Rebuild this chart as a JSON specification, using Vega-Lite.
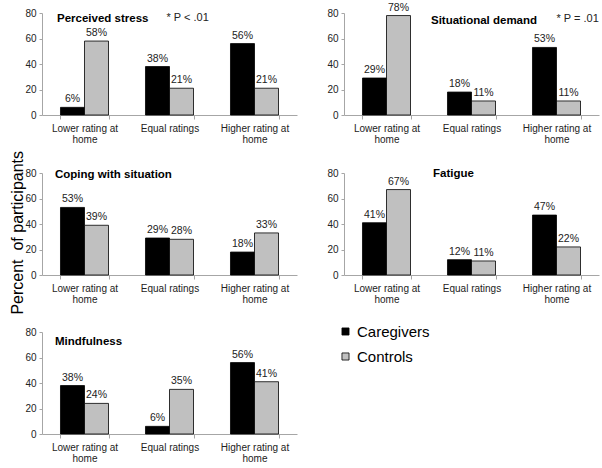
{
  "$schema": "https://vega.github.io/schema/vega-lite/v6.json",
  "background": "white",
  "padding": {"top": 2, "left": 9, "right": 0, "bottom": 0},
  "title": {"text": "Percent\u00a0 of participants", "orient": "left", "anchor": "middle", "frame": "bounds", "fontSize": 16, "fontWeight": "normal", "color": "black", "offset": -17, "baseline": "bottom"},
  "datasets": {
    "bars": [
      {"panel": "Perceived stress", "rating": "Lower rating at home", "group": "Caregivers", "value": 6},
      {"panel": "Perceived stress", "rating": "Lower rating at home", "group": "Controls", "value": 58},
      {"panel": "Perceived stress", "rating": "Equal ratings", "group": "Caregivers", "value": 38},
      {"panel": "Perceived stress", "rating": "Equal ratings", "group": "Controls", "value": 21},
      {"panel": "Perceived stress", "rating": "Higher rating at home", "group": "Caregivers", "value": 56},
      {"panel": "Perceived stress", "rating": "Higher rating at home", "group": "Controls", "value": 21},
      {"panel": "Situational demand", "rating": "Lower rating at home", "group": "Caregivers", "value": 29},
      {"panel": "Situational demand", "rating": "Lower rating at home", "group": "Controls", "value": 78},
      {"panel": "Situational demand", "rating": "Equal ratings", "group": "Caregivers", "value": 18},
      {"panel": "Situational demand", "rating": "Equal ratings", "group": "Controls", "value": 11},
      {"panel": "Situational demand", "rating": "Higher rating at home", "group": "Caregivers", "value": 53},
      {"panel": "Situational demand", "rating": "Higher rating at home", "group": "Controls", "value": 11},
      {"panel": "Coping with situation", "rating": "Lower rating at home", "group": "Caregivers", "value": 53},
      {"panel": "Coping with situation", "rating": "Lower rating at home", "group": "Controls", "value": 39},
      {"panel": "Coping with situation", "rating": "Equal ratings", "group": "Caregivers", "value": 29},
      {"panel": "Coping with situation", "rating": "Equal ratings", "group": "Controls", "value": 28},
      {"panel": "Coping with situation", "rating": "Higher rating at home", "group": "Caregivers", "value": 18},
      {"panel": "Coping with situation", "rating": "Higher rating at home", "group": "Controls", "value": 33},
      {"panel": "Fatigue", "rating": "Lower rating at home", "group": "Caregivers", "value": 41},
      {"panel": "Fatigue", "rating": "Lower rating at home", "group": "Controls", "value": 67},
      {"panel": "Fatigue", "rating": "Equal ratings", "group": "Caregivers", "value": 12},
      {"panel": "Fatigue", "rating": "Equal ratings", "group": "Controls", "value": 11},
      {"panel": "Fatigue", "rating": "Higher rating at home", "group": "Caregivers", "value": 47},
      {"panel": "Fatigue", "rating": "Higher rating at home", "group": "Controls", "value": 22},
      {"panel": "Mindfulness", "rating": "Lower rating at home", "group": "Caregivers", "value": 38},
      {"panel": "Mindfulness", "rating": "Lower rating at home", "group": "Controls", "value": 24},
      {"panel": "Mindfulness", "rating": "Equal ratings", "group": "Caregivers", "value": 6},
      {"panel": "Mindfulness", "rating": "Equal ratings", "group": "Controls", "value": 35},
      {"panel": "Mindfulness", "rating": "Higher rating at home", "group": "Caregivers", "value": 56},
      {"panel": "Mindfulness", "rating": "Higher rating at home", "group": "Controls", "value": 41}
    ],
    "titles": [
      {"panel": "Perceived stress", "title": "Perceived stress"},
      {"panel": "Situational demand", "title": "Situational demand"},
      {"panel": "Coping with situation", "title": "Coping with situation"},
      {"panel": "Fatigue", "title": "Fatigue"},
      {"panel": "Mindfulness", "title": "Mindfulness"}
    ],
    "notes": [
      {"panel": "Perceived stress", "note": "* P < .01"},
      {"panel": "Situational demand", "note": "* P = .01"}
    ]
  },
  "config": {
    "font": "Liberation Sans",
    "view": {"stroke": null},
    "axis": {"domainColor": "#a6a6a6", "tickColor": "#a6a6a6", "labelColor": "#222222", "labelFontSize": 10, "grid": false, "tickSize": 4, "minExtent": 0},
    "axisX": {"labelAngle": 0, "tickBand": "extent", "labelPadding": 4, "labelLineHeight": 11, "labelBaseline": "top"},
    "axisY": {"labelPadding": 3, "tickSize": 3, "labelOverlap": false, "tickCount": 5},
    "legend": {"orient": "none", "legendX": 296, "legendY": 311, "title": null, "symbolType": "square", "symbolSize": 50, "symbolStrokeColor": "black", "symbolStrokeWidth": 0.8, "labelFontSize": 15, "labelColor": "black", "labelOffset": 4, "rowPadding": 9}
  },
  "spacing": 23,
  "vconcat": [
    {
      "spacing": 29,
      "hconcat": [
        {
          "width": 255, "height": 102,
          "layer": [
            {
              "data": {"name": "bars"},
              "transform": [{"filter": "datum.panel === 'Perceived stress'"}],
              "mark": {"type": "bar", "stroke": "black", "strokeWidth": 0.8},
              "encoding": {
                "x": {"field": "rating", "type": "nominal", "sort": ["Lower rating at home", "Equal ratings", "Higher rating at home"], "scale": {"paddingInner": 0.435, "paddingOuter": 0.2175}, "axis": {"title": null, "labelExpr": "datum.label === 'Lower rating at home' ? ['Lower rating at', 'home'] : datum.label === 'Higher rating at home' ? ['Higher rating at', 'home'] : datum.label"}},
                "y": {"field": "value", "type": "quantitative", "scale": {"domain": [0, 80]}, "axis": {"title": null, "values": [0, 20, 40, 60, 80]}},
                "xOffset": {"field": "group", "type": "nominal", "sort": ["Caregivers", "Controls"]},
                "color": {"field": "group", "type": "nominal", "scale": {"domain": ["Caregivers", "Controls"], "range": ["#000000", "#c0c0c0"]}}
              }
            },
            {
              "data": {"name": "bars"},
              "transform": [{"filter": "datum.panel === 'Perceived stress'"}],
              "mark": {"type": "text", "dy": -5, "baseline": "alphabetic", "fontSize": 10.5, "color": "#222222", "text": {"expr": "datum.value + '%'"}},
              "encoding": {
                "x": {"field": "rating", "type": "nominal", "sort": ["Lower rating at home", "Equal ratings", "Higher rating at home"]},
                "y": {"field": "value", "type": "quantitative", "axis": {"title": null, "values": [0, 20, 40, 60, 80]}},
                "xOffset": {"field": "group", "type": "nominal", "sort": ["Caregivers", "Controls"]}
              }
            },
            {
              "data": {"name": "titles"},
              "transform": [{"filter": "datum.panel === 'Perceived stress'"}],
              "mark": {"type": "text", "align": "left", "baseline": "alphabetic", "fontSize": 11.5, "fontWeight": "bold", "color": "black", "dx": -27.5},
              "encoding": {"x": {"datum": "Lower rating at home"}, "y": {"datum": 72.6}, "text": {"field": "title"}}
            },
            {
              "data": {"name": "notes"},
              "transform": [{"filter": "datum.panel === 'Perceived stress'"}],
              "mark": {"type": "text", "align": "left", "baseline": "alphabetic", "fontSize": 11, "color": "#222222", "dx": -3},
              "encoding": {"x": {"datum": "Equal ratings"}, "y": {"datum": 73.4}, "text": {"field": "note"}}
            }
          ]
        },
        {
          "width": 255, "height": 102,
          "layer": [
            {
              "data": {"name": "bars"},
              "transform": [{"filter": "datum.panel === 'Situational demand'"}],
              "mark": {"type": "bar", "stroke": "black", "strokeWidth": 0.8},
              "encoding": {
                "x": {"field": "rating", "type": "nominal", "sort": ["Lower rating at home", "Equal ratings", "Higher rating at home"], "scale": {"paddingInner": 0.435, "paddingOuter": 0.2175}, "axis": {"title": null, "labelExpr": "datum.label === 'Lower rating at home' ? ['Lower rating at', 'home'] : datum.label === 'Higher rating at home' ? ['Higher rating at', 'home'] : datum.label"}},
                "y": {"field": "value", "type": "quantitative", "scale": {"domain": [0, 80]}, "axis": {"title": null, "values": [0, 20, 40, 60, 80]}},
                "xOffset": {"field": "group", "type": "nominal", "sort": ["Caregivers", "Controls"]},
                "color": {"field": "group", "type": "nominal", "scale": {"domain": ["Caregivers", "Controls"], "range": ["#000000", "#c0c0c0"]}}
              }
            },
            {
              "data": {"name": "bars"},
              "transform": [{"filter": "datum.panel === 'Situational demand'"}],
              "mark": {"type": "text", "dy": -5, "baseline": "alphabetic", "fontSize": 10.5, "color": "#222222", "text": {"expr": "datum.value + '%'"}},
              "encoding": {
                "x": {"field": "rating", "type": "nominal", "sort": ["Lower rating at home", "Equal ratings", "Higher rating at home"]},
                "y": {"field": "value", "type": "quantitative", "axis": {"title": null, "values": [0, 20, 40, 60, 80]}},
                "xOffset": {"field": "group", "type": "nominal", "sort": ["Caregivers", "Controls"]}
              }
            },
            {
              "data": {"name": "titles"},
              "transform": [{"filter": "datum.panel === 'Situational demand'"}],
              "mark": {"type": "text", "align": "left", "baseline": "alphabetic", "fontSize": 11.5, "fontWeight": "bold", "color": "black", "dx": -40.5},
              "encoding": {"x": {"datum": "Equal ratings"}, "y": {"datum": 71.4}, "text": {"field": "title"}}
            },
            {
              "data": {"name": "notes"},
              "transform": [{"filter": "datum.panel === 'Situational demand'"}],
              "mark": {"type": "text", "align": "left", "baseline": "alphabetic", "fontSize": 11, "color": "#222222", "dx": 0},
              "encoding": {"x": {"datum": "Higher rating at home"}, "y": {"datum": 72.6}, "text": {"field": "note"}}
            }
          ]
        }
      ]
    },
    {
      "spacing": 29,
      "hconcat": [
        {
          "width": 255, "height": 102,
          "layer": [
            {
              "data": {"name": "bars"},
              "transform": [{"filter": "datum.panel === 'Coping with situation'"}],
              "mark": {"type": "bar", "stroke": "black", "strokeWidth": 0.8},
              "encoding": {
                "x": {"field": "rating", "type": "nominal", "sort": ["Lower rating at home", "Equal ratings", "Higher rating at home"], "scale": {"paddingInner": 0.435, "paddingOuter": 0.2175}, "axis": {"title": null, "labelExpr": "datum.label === 'Lower rating at home' ? ['Lower rating at', 'home'] : datum.label === 'Higher rating at home' ? ['Higher rating at', 'home'] : datum.label"}},
                "y": {"field": "value", "type": "quantitative", "scale": {"domain": [0, 80]}, "axis": {"title": null, "values": [0, 20, 40, 60, 80]}},
                "xOffset": {"field": "group", "type": "nominal", "sort": ["Caregivers", "Controls"]},
                "color": {"field": "group", "type": "nominal", "scale": {"domain": ["Caregivers", "Controls"], "range": ["#000000", "#c0c0c0"]}}
              }
            },
            {
              "data": {"name": "bars"},
              "transform": [{"filter": "datum.panel === 'Coping with situation'"}],
              "mark": {"type": "text", "dy": -5, "baseline": "alphabetic", "fontSize": 10.5, "color": "#222222", "text": {"expr": "datum.value + '%'"}},
              "encoding": {
                "x": {"field": "rating", "type": "nominal", "sort": ["Lower rating at home", "Equal ratings", "Higher rating at home"]},
                "y": {"field": "value", "type": "quantitative", "axis": {"title": null, "values": [0, 20, 40, 60, 80]}},
                "xOffset": {"field": "group", "type": "nominal", "sort": ["Caregivers", "Controls"]}
              }
            },
            {
              "data": {"name": "titles"},
              "transform": [{"filter": "datum.panel === 'Coping with situation'"}],
              "mark": {"type": "text", "align": "left", "baseline": "alphabetic", "fontSize": 11.5, "fontWeight": "bold", "color": "black", "dx": -29.5},
              "encoding": {"x": {"datum": "Lower rating at home"}, "y": {"datum": 75.7}, "text": {"field": "title"}}
            }
          ]
        },
        {
          "width": 255, "height": 102,
          "layer": [
            {
              "data": {"name": "bars"},
              "transform": [{"filter": "datum.panel === 'Fatigue'"}],
              "mark": {"type": "bar", "stroke": "black", "strokeWidth": 0.8},
              "encoding": {
                "x": {"field": "rating", "type": "nominal", "sort": ["Lower rating at home", "Equal ratings", "Higher rating at home"], "scale": {"paddingInner": 0.435, "paddingOuter": 0.2175}, "axis": {"title": null, "labelExpr": "datum.label === 'Lower rating at home' ? ['Lower rating at', 'home'] : datum.label === 'Higher rating at home' ? ['Higher rating at', 'home'] : datum.label"}},
                "y": {"field": "value", "type": "quantitative", "scale": {"domain": [0, 80]}, "axis": {"title": null, "values": [0, 20, 40, 60, 80]}},
                "xOffset": {"field": "group", "type": "nominal", "sort": ["Caregivers", "Controls"]},
                "color": {"field": "group", "type": "nominal", "scale": {"domain": ["Caregivers", "Controls"], "range": ["#000000", "#c0c0c0"]}}
              }
            },
            {
              "data": {"name": "bars"},
              "transform": [{"filter": "datum.panel === 'Fatigue'"}],
              "mark": {"type": "text", "dy": -5, "baseline": "alphabetic", "fontSize": 10.5, "color": "#222222", "text": {"expr": "datum.value + '%'"}},
              "encoding": {
                "x": {"field": "rating", "type": "nominal", "sort": ["Lower rating at home", "Equal ratings", "Higher rating at home"]},
                "y": {"field": "value", "type": "quantitative", "axis": {"title": null, "values": [0, 20, 40, 60, 80]}},
                "xOffset": {"field": "group", "type": "nominal", "sort": ["Caregivers", "Controls"]}
              }
            },
            {
              "data": {"name": "titles"},
              "transform": [{"filter": "datum.panel === 'Fatigue'"}],
              "mark": {"type": "text", "align": "left", "baseline": "alphabetic", "fontSize": 11.5, "fontWeight": "bold", "color": "black", "dx": -38.5},
              "encoding": {"x": {"datum": "Equal ratings"}, "y": {"datum": 76.9}, "text": {"field": "title"}}
            }
          ]
        }
      ]
    },
    {
      "width": 255, "height": 102,
      "layer": [
        {
          "data": {"name": "bars"},
          "transform": [{"filter": "datum.panel === 'Mindfulness'"}],
          "mark": {"type": "bar", "stroke": "black", "strokeWidth": 0.8},
          "encoding": {
            "x": {"field": "rating", "type": "nominal", "sort": ["Lower rating at home", "Equal ratings", "Higher rating at home"], "scale": {"paddingInner": 0.435, "paddingOuter": 0.2175}, "axis": {"title": null, "labelExpr": "datum.label === 'Lower rating at home' ? ['Lower rating at', 'home'] : datum.label === 'Higher rating at home' ? ['Higher rating at', 'home'] : datum.label"}},
            "y": {"field": "value", "type": "quantitative", "scale": {"domain": [0, 80]}, "axis": {"title": null, "values": [0, 20, 40, 60, 80]}},
            "xOffset": {"field": "group", "type": "nominal", "sort": ["Caregivers", "Controls"]},
            "color": {"field": "group", "type": "nominal", "scale": {"domain": ["Caregivers", "Controls"], "range": ["#000000", "#c0c0c0"]}}
          }
        },
        {
          "data": {"name": "bars"},
          "transform": [{"filter": "datum.panel === 'Mindfulness'"}],
          "mark": {"type": "text", "dy": -5, "baseline": "alphabetic", "fontSize": 10.5, "color": "#222222", "text": {"expr": "datum.value + '%'"}},
          "encoding": {
            "x": {"field": "rating", "type": "nominal", "sort": ["Lower rating at home", "Equal ratings", "Higher rating at home"]},
            "y": {"field": "value", "type": "quantitative", "axis": {"title": null, "values": [0, 20, 40, 60, 80]}},
            "xOffset": {"field": "group", "type": "nominal", "sort": ["Caregivers", "Controls"]}
          }
        },
        {
          "data": {"name": "titles"},
          "transform": [{"filter": "datum.panel === 'Mindfulness'"}],
          "mark": {"type": "text", "align": "left", "baseline": "alphabetic", "fontSize": 11.5, "fontWeight": "bold", "color": "black", "dx": -29.5},
          "encoding": {"x": {"datum": "Lower rating at home"}, "y": {"datum": 69.6}, "text": {"field": "title"}}
        }
      ]
    }
  ]
}
